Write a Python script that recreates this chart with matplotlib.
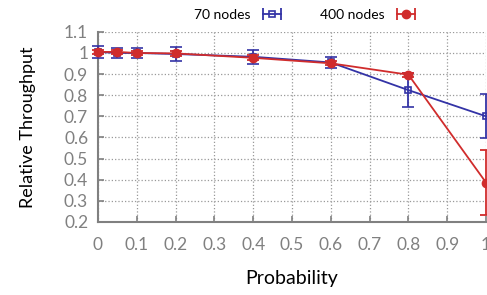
import numpy as np
import matplotlib
matplotlib.use('Agg')
import matplotlib.pyplot as plt
from matplotlib.lines import Line2D
from matplotlib.legend_handler import HandlerLine2D
from matplotlib.ticker import FuncFormatter

plt.rcParams['font.family'] = ['Lato', 'DejaVu Sans']

probability = [0, 0.05, 0.1, 0.2, 0.4, 0.6, 0.8, 1.0]
tput_70 = [1.005, 1.0, 1.0, 0.995, 0.982, 0.955, 0.824, 0.70]
err_70 = [0.03, 0.025, 0.025, 0.035, 0.032, 0.025, 0.08, 0.105]
tput_400 = [1.005, 1.005, 1.0, 0.998, 0.977, 0.951, 0.897, 0.386]
err_400 = [0.01, 0.008, 0.01, 0.01, 0.012, 0.01, 0.01, 0.155]
xticks = [0, 0.1, 0.2, 0.3, 0.4, 0.5, 0.6, 0.7, 0.8, 0.9, 1]
yticks = [0.2, 0.3, 0.4, 0.5, 0.6, 0.7, 0.8, 0.9, 1, 1.1]

BLUE = '#3333a6'
RED = '#d02c2c'
GRAY = '#808080'

fig = plt.figure(figsize=(4.87, 2.95), dpi=100)
ax = fig.add_axes([0.201, 0.248, 0.797, 0.644])

ax.errorbar(probability, tput_70, yerr=err_70, color=BLUE, marker='s', mfc='none',
            mec=BLUE, ms=5, mew=1.2, lw=1.3, capsize=4, capthick=1.3, elinewidth=1.3,
            zorder=3, clip_on=False)
ax.errorbar(probability, tput_400, yerr=err_400, color=RED, marker='o', ms=6,
            lw=1.3, capsize=4, capthick=1.3, elinewidth=1.3, zorder=4, clip_on=False)

# legend: horizontal bar with end caps and the point marker in the middle
caps70 = Line2D([], [], color=BLUE, lw=1.3, marker='|', ms=9, mew=1.3)
mark70 = Line2D([], [], color=BLUE, ls='none', marker='s', mfc='none', ms=5, mew=1.2)
caps400 = Line2D([], [], color=RED, lw=1.3, marker='|', ms=9, mew=1.3)
mark400 = Line2D([], [], color=RED, ls='none', marker='o', ms=6)
fig.legend([(caps70, mark70), (caps400, mark400)], ['70 nodes', '400 nodes'],
           loc='center', ncol=2, bbox_to_anchor=(0.625, 0.948), frameon=False,
           markerfirst=False, numpoints=1, handlelength=1.3, columnspacing=2.8,
           handletextpad=0.9, fontsize=10,
           handler_map={caps70: HandlerLine2D(numpoints=2, marker_pad=0),
                        caps400: HandlerLine2D(numpoints=2, marker_pad=0)})

ax.set_xlim(0, 1)
ax.set_ylim(0.2, 1.1)
ax.set_xticks(xticks)
ax.set_yticks(yticks)
fmt = FuncFormatter(lambda v, p: '%g' % round(v, 2))
ax.xaxis.set_major_formatter(fmt)
ax.yaxis.set_major_formatter(fmt)

ax.grid(True, linestyle=':', color='#999999', lw=0.9)
for s in ['top', 'right']:
    ax.spines[s].set_visible(False)
for s in ['left', 'bottom']:
    ax.spines[s].set_color(GRAY)
    ax.spines[s].set_linewidth(1.5)
ax.tick_params(direction='in', length=4, width=1.2, color=GRAY, labelcolor=GRAY,
               labelsize=12.5)
ax.tick_params(axis='x', pad=11)
ax.tick_params(axis='y', pad=7)

ax.set_xlabel('Probability', fontsize=14, labelpad=12)
ax.set_ylabel('Relative Throughput', fontsize=13, labelpad=20)

fig.savefig('out.png', dpi=100)
